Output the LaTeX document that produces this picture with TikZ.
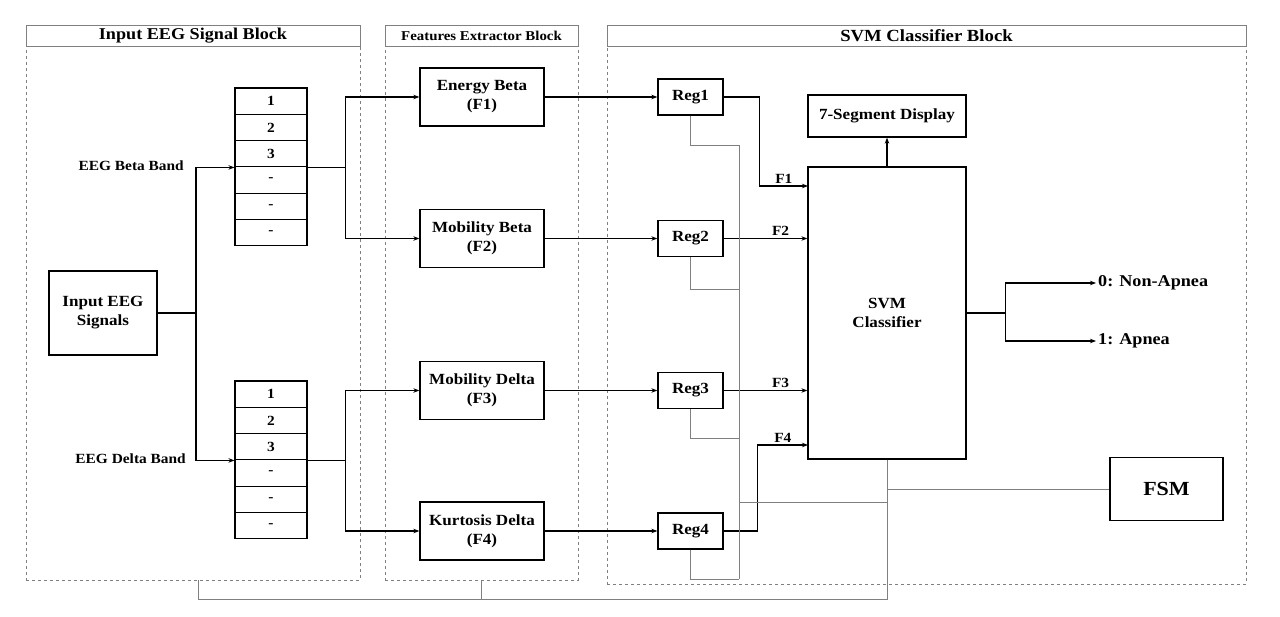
\documentclass[tikz,border=0pt]{standalone}
\usepackage{fontspec}
\setmainfont{Liberation Serif}[FakeStretch=1.1]
\usetikzlibrary{arrows.meta}

\begin{document}
\begin{tikzpicture}[
    x=1pt, y=-1pt,
    box/.style={rectangle, draw, line width=1.3pt, inner sep=0pt, align=center, font=\bfseries\fontsize{15.5}{19}\selectfont},
    feat/.style={box, minimum width=124pt, minimum height=58pt},
    reg/.style={box, minimum width=65pt, minimum height=36pt},
    cell/.style={rectangle, draw, line width=1.1pt, minimum width=72pt, minimum height=26.3pt, inner sep=0pt, font=\bfseries\fontsize{14}{14}\selectfont},
    head/.style={rectangle, draw=gray, line width=0.6pt, inner sep=0pt, font=\bfseries\fontsize{16.5}{16.5}\selectfont},
    panel/.style={rectangle, draw=gray, dashed, line width=0.6pt, inner sep=0pt},
    lbl/.style={font=\bfseries\fontsize{14}{14}\selectfont, inner sep=2pt},
    outl/.style={lbl, font=\bfseries\fontsize{16.5}{16.5}\selectfont, anchor=west},
    arr/.style={-{Stealth[length=6pt,width=4.5pt]}, line width=1.2pt},
    wire/.style={line width=1.2pt},
    fb/.style={draw=gray, line width=0.8pt}
]
\useasboundingbox (0,0) rectangle (1280,617);

% Blocks
\node[head, minimum width=334pt, minimum height=21pt] (h1) at (193,35.5) {Input EEG Signal Block};
\node[panel, minimum width=334pt, minimum height=534pt] (p1) at (193,313) {};
\node[head, minimum width=193pt, minimum height=21pt, font=\bfseries\fontsize{13.5}{13.5}\selectfont] (h2) at (481.5,35.5) {Features Extractor Block};
\node[panel, minimum width=193pt, minimum height=534pt] (p2) at (481.5,313) {};
\node[head, minimum width=639pt, minimum height=21pt, font=\bfseries\fontsize{17}{17}\selectfont] (h3) at (926.5,35.5) {SVM Classifier Block};
\node[panel, minimum width=639pt, minimum height=538pt] (p3) at (926.5,315) {};

% Nodes
\node[box, minimum width=108pt, minimum height=84pt] (inp) at (103,313) {Input EEG\\Signals};

\foreach \i/\t in {1/1,2/2,3/3,4/-,5/-,6/-} {
    \node[cell] (rb\i) at (271,{101.15+26.3*(\i-1)}) {\t};
    \node[cell] (rd\i) at (271,{394.15+26.3*(\i-1)}) {\t};
}
\node[lbl, anchor=east] (lbeta) at (186,166) {EEG Beta Band};
\node[lbl, anchor=east] (ldelta) at (188,459) {EEG Delta Band};

\node[feat] (eb) at (482,97) {Energy Beta\\(F1)};
\node[feat] (mb) at (482,238.5) {Mobility Beta\\(F2)};
\node[feat] (md) at (482,390.5) {Mobility Delta\\(F3)};
\node[feat] (kd) at (482,531) {Kurtosis Delta\\(F4)};

\node[reg] (reg1) at (690.5,97) {Reg1};
\node[reg] (reg2) at (690.5,238.5) {Reg2};
\node[reg] (reg3) at (690.5,390.5) {Reg3};
\node[reg] (reg4) at (690.5,531) {Reg4};

\node[box, minimum width=158pt, minimum height=292pt] (svm) at (887,313) {SVM\\Classifier};
\node[box, minimum width=158pt, minimum height=42pt] (disp) at (887,116) {7-Segment Display};
\node[box, minimum width=113pt, minimum height=63pt, font=\bfseries\fontsize{20}{20}\selectfont] (fsm) at (1166.5,489) {FSM};

\node[outl] (out0) at (1096,283) {0: Non-Apnea};
\node[outl] (out1) at (1096,341) {1: Apnea};

\coordinate (in1) at (808,186);
\coordinate (in4) at (808,445);

% Arrows
\draw[wire] (inp.east) -- (196,313) coordinate (jin);
\draw[arr] (jin) |- (rb3.south west);
\draw[arr] (jin) |- (rd3.south west);

\draw[wire] (rb3.south east) -- ++(38,0) coordinate (jb);
\draw[arr] (jb) |- (eb.west);
\draw[arr] (jb) |- (mb.west);
\draw[wire] (rd3.south east) -- ++(38,0) coordinate (jd);
\draw[arr] (jd) |- (md.west);
\draw[arr] (jd) |- (kd.west);

\draw[arr] (eb.east) -- (reg1.west);
\draw[arr] (mb.east) -- (reg2.west);
\draw[arr] (md.east) -- (reg3.west);
\draw[arr] (kd.east) -- (reg4.west);

\draw[arr] (reg1.east) -- ++(36,0) |- (in1) node[lbl, pos=0.75, above] {F1};
\draw[arr] (reg2.east) -- (svm.west |- reg2.east) node[lbl, pos=0.68, above] {F2};
\draw[arr] (reg3.east) -- (svm.west |- reg3.east) node[lbl, pos=0.68, above] {F3};
\draw[arr] (reg4.east) -- ++(34,0) |- (in4) node[lbl, pos=0.75, above] {F4};

\draw[arr] (svm.north) -- (disp.south);
\draw[wire] (svm.east) -- ++(39,0) coordinate (jo);
\draw[arr] (jo) |- (out0.west);
\draw[arr] (jo) |- (out1.west);

% Feedback lines
\draw[fb] (reg1.south) |- (739,145) -- (739,579);
\draw[fb] (reg2.south) |- (739,289);
\draw[fb] (reg3.south) |- (739,438);
\draw[fb] (reg4.south) |- (739,579);
\draw[fb] (739,502) -- (svm.south |- 0,502);
\draw[fb] (svm.south |- fsm.west) -- (fsm.west);
\draw[fb] (svm.south) -- (svm.south |- 0,599) -| ([xshift=5pt]p1.south);
\draw[fb] (p2.south) -- (p2.south |- 0,599);
\end{tikzpicture}
\end{document}
